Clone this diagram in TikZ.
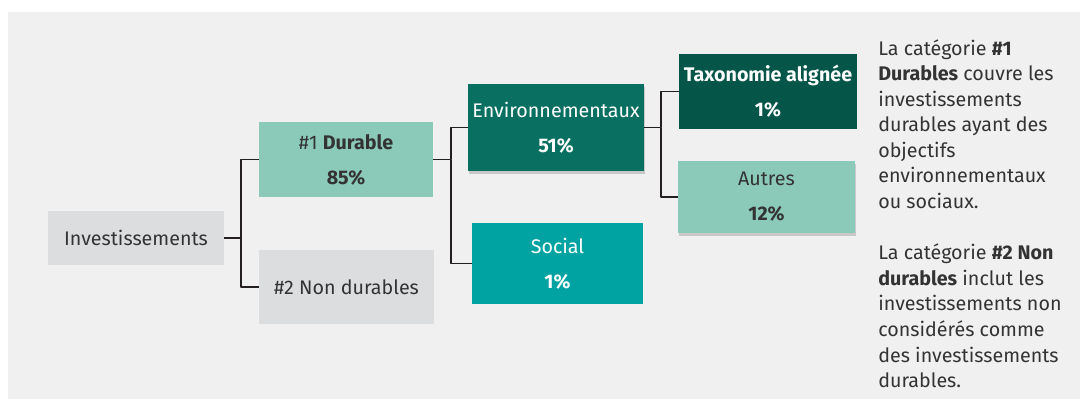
\documentclass[tikz,border=0pt]{standalone}
\usepackage{fontspec}
\setmainfont{Fira Sans}
\usetikzlibrary{shadows}
\definecolor{eeeeee}{rgb}{0.941,0.941,0.941}
\definecolor{ddddee}{rgb}{0.863,0.867,0.875}
\definecolor{mmccbb}{rgb}{0.545,0.792,0.725}
\definecolor{qqttzz}{rgb}{0.035,0.439,0.380}
\definecolor{qqzzrr}{rgb}{0.024,0.333,0.286}
\definecolor{qqaaaa}{rgb}{0.0,0.639,0.635}
\definecolor{ttttrr}{rgb}{0.2,0.2,0.2}
\definecolor{rrqqrr}{rgb}{0.137,0.122,0.125}
\begin{document}
\begin{tikzpicture}[line cap=round,line join=round,x=1.0cm,y=1.0cm,
  box/.style={rectangle,inner sep=0pt,align=center,text=ttttrr,font=\fontsize{14}{24.8}\selectfont},
  lift/.style={drop shadow={shadow xshift=0.5pt,shadow yshift=-2pt,opacity=0.35}},
  link/.style={color=rrqqrr,line width=1.4pt,line cap=butt}]
\useasboundingbox (0,0) rectangle (27,9.975);
\fill[color=eeeeee] (0.2,0) rectangle (27,9.675);
% boxes
\node[box,fill=ddddee,minimum width=4.4cm,minimum height=1.35cm] (inv) at (3.4,4.025) {Investissements};
\node[box,fill=mmccbb,minimum width=4.35cm,minimum height=1.875cm] (dur) at (8.65,5.9875) {\#1 \textbf{Durable}\\\textbf{85\%}};
\node[box,fill=ddddee,minimum width=4.375cm,minimum height=1.85cm] (non) at (8.6625,2.8) {\#2 Non durables};
\node[box,lift,fill=qqttzz,text=white,minimum width=4.4cm,minimum height=2.175cm] (env) at (13.9,6.7875) {Environnementaux\\\textbf{51\%}};
\node[box,fill=qqaaaa,text=white,minimum width=4.275cm,minimum height=2.025cm] (soc) at (13.9375,3.3875) {Social\\\textbf{1\%}};
\node[box,fill=qqzzrr,text=white,minimum width=4.45cm,minimum height=1.875cm] (tax) at (19.2,7.6875) {\textbf{Taxonomie alignée}\\\textbf{1\%}};
\node[box,lift,fill=mmccbb,minimum width=4.425cm,minimum height=1.8cm] (aut) at (19.1625,5.05) {Autres\\\textbf{12\%}};
% branches
\coordinate (j1) at (6.025,4.025);
\coordinate (j2) at (11.275,5.9875);
\coordinate (j3) at (16.525,6.7875);
\draw[link] (inv.east) -- (j1) |- (dur.west);
\draw[link] (j1) |- (non.west);
\draw[link] (dur.east) -- (j2) |- (env.west);
\draw[link] (j2) |- (soc.west);
\draw[link] (env.east) -- (j3) |- (tax.west);
\draw[link] (j3) |- (aut.west);
% note
\node[anchor=north west,inner sep=0pt,align=left,text=ttttrr,font=\fontsize{14}{18.2}\selectfont] (note) at (21.95,9.0) {La catégorie \textbf{\#1}\\\textbf{Durables} couvre les\\investissements\\durables ayant des\\objectifs\\environnementaux\\ou sociaux.\\[18.2pt]La catégorie \textbf{\#2 Non}\\\textbf{durables} inclut les\\investissements non\\considérés comme\\des investissements\\durables.};
\end{tikzpicture}
\end{document}
